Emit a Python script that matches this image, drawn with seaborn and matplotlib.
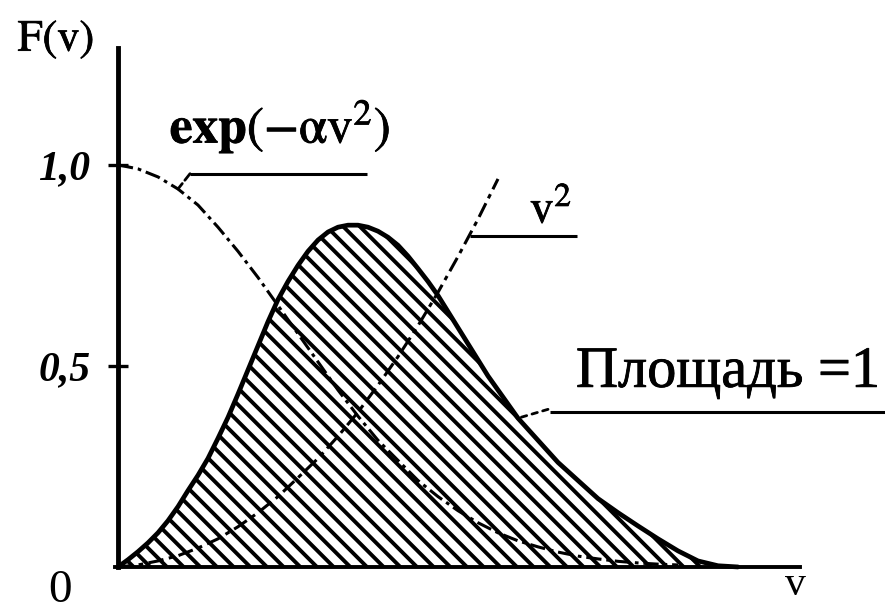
import matplotlib
matplotlib.use("Agg")
import matplotlib.pyplot as plt
import matplotlib.patheffects as pe
import seaborn as sns
import pandas as pd

# Speed grid (arbitrary units) and the curves of the Maxwell distribution sketch
v_grid = [0.0, 0.1, 0.2, 0.3, 0.4, 0.5, 0.6, 0.7, 0.8, 0.9, 1.0, 1.1, 1.2,
          1.3, 1.4, 1.5, 1.6, 1.7, 1.8, 1.9, 2.0, 2.1, 2.2, 2.3, 2.4, 2.5,
          2.6, 2.7, 2.8, 2.9, 3.0, 3.1, 3.2, 3.3, 3.4, 3.5, 3.6, 3.7, 3.8,
          3.9, 4.0, 4.2, 4.4, 4.6, 4.8, 5.0, 5.2, 5.4, 5.6, 5.8, 6.0, 6.2]
maxwell_f = [0.0, 0.018, 0.038, 0.06, 0.085, 0.115, 0.15, 0.19, 0.228, 0.27,
             0.32, 0.372, 0.43, 0.49, 0.55, 0.61, 0.665, 0.71, 0.75, 0.785,
             0.813, 0.833, 0.845, 0.85, 0.85, 0.845, 0.835, 0.82, 0.80, 0.773,
             0.742, 0.71, 0.675, 0.635, 0.595, 0.555, 0.515, 0.475, 0.44,
             0.405, 0.37, 0.315, 0.26, 0.215, 0.17, 0.135, 0.102, 0.07, 0.04,
             0.015, 0.003, 0.0]

v_exp = [0.0, 0.2, 0.4, 0.6, 0.8, 1.0, 1.2, 1.4, 1.6, 1.8, 2.0, 2.2, 2.4, 2.6,
         2.8, 3.0, 3.2, 3.4, 3.6, 3.8, 4.0, 4.2, 4.4, 4.6, 4.8, 5.0, 5.2, 5.4,
         5.6]
gauss_factor = [1.0, 0.99, 0.97, 0.94, 0.9, 0.845, 0.785, 0.72, 0.65, 0.58,
                0.51, 0.44, 0.375, 0.315, 0.265, 0.215, 0.175, 0.14, 0.11,
                0.085, 0.065, 0.05, 0.037, 0.027, 0.02, 0.014, 0.01, 0.007,
                0.005]

v_sq = [0.0, 0.2, 0.4, 0.6, 0.8, 1.0, 1.2, 1.4, 1.6, 1.8, 2.0, 2.2, 2.4, 2.6,
        2.8, 3.0, 3.2, 3.4, 3.6, 3.8]
v_squared = [0.0, 0.005, 0.015, 0.028, 0.047, 0.07, 0.1, 0.135, 0.175, 0.222,
             0.27, 0.325, 0.385, 0.452, 0.523, 0.6, 0.683, 0.772, 0.865, 0.965]

y_ticks = [0.5, 1.0]
y_tick_labels = ["0,5", "1,0"]

sns.set_theme(style="white")
plt.rcParams["font.family"] = ["Liberation Serif", "DejaVu Serif"]
plt.rcParams["mathtext.fontset"] = "stix"
plt.rcParams["hatch.linewidth"] = 2.8

fig = plt.figure(figsize=(8.85, 6.12), dpi=100)
ax = fig.add_axes([0, 0, 1, 1])
ax.set_xlim(-1.18, 7.67)
ax.set_ylim(-0.112, 1.41)
ax.set_facecolor("white")

df_f = pd.DataFrame({"v": v_grid, "F": maxwell_f})
df_e = pd.DataFrame({"v": v_exp, "g": gauss_factor})
df_s = pd.DataFrame({"v": v_sq, "s": v_squared})

# hatched area under the distribution
ax.fill_between(df_f["v"], df_f["F"], 0, facecolor="white", edgecolor="black",
                hatch="\\\\", linewidth=0, zorder=1)

sns.lineplot(data=df_e, x="v", y="g", ax=ax, color="black", lw=2.2,
             estimator=None, sort=False, zorder=3)
ax.lines[-1].set_dashes((5, 1.6, 1.2, 1.6))
sns.lineplot(data=df_s, x="v", y="s", ax=ax, color="black", lw=2.2,
             estimator=None, sort=False, zorder=3)
ax.lines[-1].set_dashes((5, 1.8, 1.5, 1.8))
sns.lineplot(data=df_f, x="v", y="F", ax=ax, color="black", lw=3.4,
             estimator=None, sort=False, zorder=4)
ax.lines[-1].set_solid_joinstyle("round")

# axes drawn as crossing spines
for side in ("top", "right"):
    ax.spines[side].set_visible(False)
ax.spines["left"].set_position(("data", 0))
ax.spines["bottom"].set_position(("data", 0))
ax.spines["left"].set_bounds(0, 1.291)
ax.spines["bottom"].set_bounds(-0.03, 6.82)
ax.spines["left"].set_linewidth(3.5)
ax.spines["bottom"].set_linewidth(2.8)
for s in ("left", "bottom"):
    ax.spines[s].set_color("black")
    ax.spines[s].set_zorder(5)

ax.set_xticks([])
ax.set_yticks(y_ticks)
ax.set_yticklabels(y_tick_labels)
ax.tick_params(axis="y", direction="inout", length=14, width=2.4, pad=13,
               colors="black", left=True)
for lab in ax.get_yticklabels():
    lab.set_fontsize(30)
    lab.set_fontstyle("italic")
    lab.set_fontweight("bold")
ax.set_xlabel("")
ax.set_ylabel("")

heavy = [pe.withStroke(linewidth=0.6, foreground="black")]

# leaders and labels
lead = dict(color="black", lw=2.2, solid_capstyle="butt", zorder=6)
ax.annotate("", xy=(v_exp[3], gauss_factor[3]), xytext=(0.72, 0.978),
            arrowprops=dict(arrowstyle="-", lw=2.0, color="black",
                            shrinkA=0, shrinkB=0, linestyle=(0, (3, 1.5))))
ax.plot([0.72, 2.49], [0.978, 0.978], **lead)
ax.text(1.62, 1.055, r"$\mathbf{exp}(-\mathrm{\alpha v}^2)$", fontsize=37,
        ha="center", va="baseline", color="black", path_effects=heavy)

ax.plot([3.52, 4.59], [0.823, 0.823], **lead)
ax.text(4.33, 0.856, r"$\mathrm{v}^2$", fontsize=34, ha="center",
        va="baseline", color="black", path_effects=heavy)

ax.annotate("", xy=(v_grid[40], maxwell_f[40]), xytext=(4.30, 0.392),
            arrowprops=dict(arrowstyle="-", lw=2.0, color="black",
                            shrinkA=0, shrinkB=0, linestyle=(0, (2, 2))))
ax.plot([4.32, 7.67], [0.386, 0.386], **lead)
ax.text(6.10, 0.448, "Площадь =1", fontsize=42, ha="center", va="baseline",
        color="black", path_effects=heavy)

ax.text(-0.62, 1.311, r"$\mathrm{F(v)}$", fontsize=32, ha="center",
        va="center", color="black", path_effects=heavy)
ax.text(-0.58, -0.06, "0", fontsize=34, ha="center", va="center",
        color="black")
ax.text(6.77, -0.045, "v", fontsize=30, ha="center", va="center",
        color="black")

fig.savefig("out.png", dpi=100, facecolor="white")
